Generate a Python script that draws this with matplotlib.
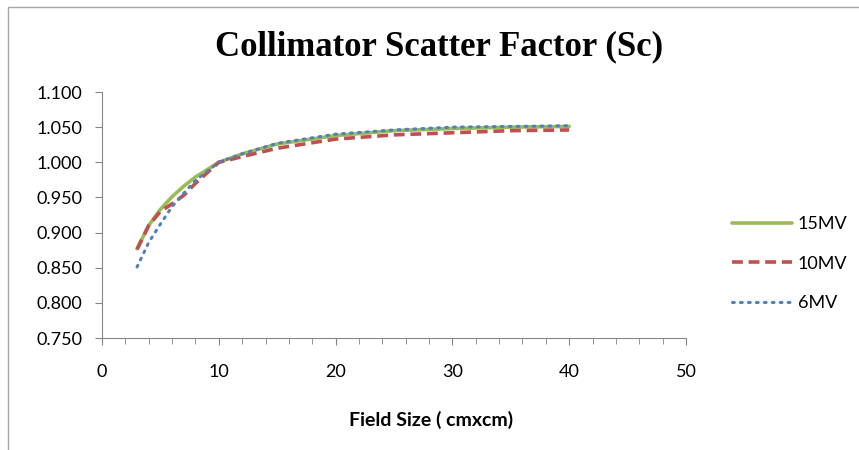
import matplotlib
matplotlib.use("Agg")
import matplotlib.pyplot as plt
from matplotlib.patches import Rectangle
from matplotlib.ticker import MultipleLocator, FormatStrFormatter

# field sizes (cm x cm) and collimator scatter factors
field_size = [3, 4, 5, 6, 7, 8, 10, 12, 15, 20, 25, 30, 35, 40]
sc_15mv = [0.877, 0.910, 0.933, 0.951, 0.966, 0.979, 1.000, 1.012, 1.026, 1.038, 1.045, 1.048, 1.050, 1.051]
sc_10mv = [0.876, 0.910, 0.930, 0.941, 0.953, 0.970, 1.000, 1.008, 1.020, 1.033, 1.039, 1.042, 1.045, 1.046]
sc_6mv = [0.851, 0.886, 0.912, 0.937, 0.956, 0.974, 1.000, 1.012, 1.027, 1.040, 1.046, 1.050, 1.051, 1.052]

plt.rcParams['font.family'] = ['Lato', 'DejaVu Sans']

fig = plt.figure(figsize=(8.59, 4.5), dpi=100)
ax = fig.add_axes([102/859, 1 - 338/450, (686 - 102)/859, (338 - 92)/450])

# outer chart border (cut off at right and bottom like the screenshot)
fig.patches.append(Rectangle((8/859, -0.1), 1.2, 1.1 - 7/450, transform=fig.transFigure,
                             fill=False, edgecolor='#a6a6a6', lw=1.0))

ax.plot(field_size, sc_15mv, color='#9BBB59', lw=2.6, label='15MV', solid_capstyle='round')
ax.plot(field_size, sc_10mv, color='#C0504D', lw=2.6, ls=(0, (3, 1.6)), label='10MV')
ax.plot(field_size, sc_6mv, color='#4F81BD', lw=2.2, ls=(0, (0.6, 2.0)), dash_capstyle='round', label='6MV')

ax.set_xlim(0, 50)
ax.set_ylim(0.75, 1.10)
ax.xaxis.set_major_locator(MultipleLocator(10))
ax.xaxis.set_minor_locator(MultipleLocator(2))
ax.yaxis.set_major_locator(MultipleLocator(0.05))
ax.yaxis.set_major_formatter(FormatStrFormatter('%.3f'))

for s in ['top', 'right']:
    ax.spines[s].set_visible(False)
for s in ['left', 'bottom']:
    ax.spines[s].set_color('#868686')
ax.tick_params(axis='both', which='major', direction='out', length=5, color='#868686',
               labelsize=13, labelcolor='black')
ax.tick_params(axis='x', which='minor', direction='out', length=4, color='#868686')
ax.tick_params(axis='y', pad=9)
ax.tick_params(axis='x', pad=14)

ax.set_xlabel('Field Size ( cmxcm)', fontsize=14, fontweight='bold')
ax.xaxis.set_label_coords((431 - 102)/584, -(420 - 338)/246)
ax.xaxis.label.set_va('center')

fig.text(439/859, 1 - 55/450, 'Collimator Scatter Factor (Sc)', ha='center', va='baseline',
         fontsize=25, fontweight='bold', family=['Liberation Serif', 'DejaVu Serif'])

fig.legend(loc='upper left', bbox_to_anchor=(716/859, 1 - 200/450), frameon=False,
           fontsize=13, handlelength=3.33, labelspacing=1.3, handletextpad=0.3)

fig.savefig('out.png', dpi=100)
